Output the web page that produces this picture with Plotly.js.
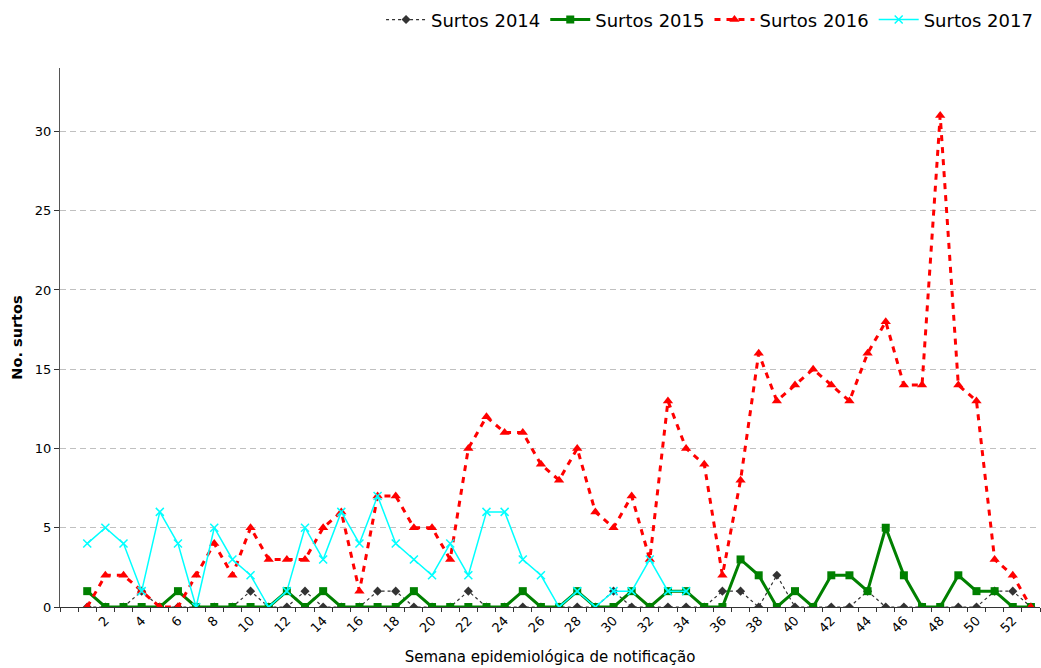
<!DOCTYPE html>
<html>
<head>
<meta charset="utf-8">
<script src="https://cdn.plot.ly/plotly-3.0.1.min.js"></script>
<style>html,body{margin:0;padding:0;background:#fff;}#chart{width:1041px;height:668px;}</style>
</head>
<body>
<div id="chart"></div>
<script>
const weeks = [];
for (let w = 1; w <= 53; w++) weeks.push(w);
const weeks2017 = weeks.slice(0, 34);

const surtos2014 = [0,0,0,1,0,0,0,0,0,1,0,0,1,0,0,0,1,1,0,0,0,1,0,0,0,0,0,0,0,1,0,0,0,0,0,1,1,0,2,0,0,0,0,1,0,0,0,0,0,0,1,1,0];
const surtos2015 = [1,0,0,0,0,1,0,0,0,0,0,1,0,1,0,0,0,0,1,0,0,0,0,0,1,0,0,1,0,0,1,0,1,1,0,0,3,2,0,1,0,2,2,1,5,2,0,0,2,1,1,0,0];
const surtos2016 = [0,2,2,1,0,0,2,4,2,5,3,3,3,5,6,1,7,7,5,5,3,10,12,11,11,9,8,10,6,5,7,3,13,10,9,2,8,16,13,14,15,14,13,16,18,14,14,31,14,13,3,2,0];
const surtos2017 = [4,5,4,1,6,4,0,5,3,2,0,1,5,3,6,4,7,4,3,2,4,2,6,6,3,2,0,1,0,1,1,3,1,1];

const tickWeeks = [];
for (let w = 2; w <= 52; w += 2) tickWeeks.push(w);
const tickLabels = tickWeeks.map(String);
const yTicks = [0,5,10,15,20,25,30];

const F = 'DejaVu Sans, Verdana, sans-serif';

const traces = [
  {x: weeks, y: surtos2014, name: 'Surtos 2014', mode: 'lines+markers',
   line: {color: '#333333', width: 1.2, dash: 'dot'},
   marker: {symbol: 'diamond', size: 7, color: '#333333'}},
  {x: weeks, y: surtos2015, name: 'Surtos 2015', mode: 'lines+markers',
   line: {color: '#008000', width: 3},
   marker: {symbol: 'square', size: 8, color: '#008000'}},
  {x: weeks, y: surtos2016, name: 'Surtos 2016', mode: 'lines+markers',
   line: {color: '#ff0000', width: 3, dash: '6px,6px'},
   marker: {symbol: 'triangle-up', size: 9, color: '#ff0000'}},
  {x: weeks2017, y: surtos2017, name: 'Surtos 2017', mode: 'lines+markers',
   line: {color: '#00ffff', width: 1.5},
   marker: {symbol: 'x-thin', size: 8, color: '#00ffff', line: {color: '#00ffff', width: 1.5}}}
];

const layout = {
  width: 1041, height: 668,
  margin: {l: 60, r: 1, t: 68, b: 61},
  paper_bgcolor: '#ffffff', plot_bgcolor: '#ffffff',
  font: {family: F, color: '#000000', size: 13},
  showlegend: true,
  legend: {orientation: 'h', x: 0.998, xanchor: 'right', yref: 'container', y: 0.998, yanchor: 'top',
           font: {family: F, size: 18, color: '#000'}, itemwidth: 40, tracegroupgap: 0},
  xaxis: {
    range: [-0.5, 53.5], tickmode: 'array', tickvals: tickWeeks, ticktext: tickLabels,
    tickangle: -45, ticks: '', showgrid: false, zeroline: false,
    showline: true, linecolor: '#333333', linewidth: 1,
    tickfont: {family: F, size: 13, color: '#000'},
    minor: {tick0: 0.5, dtick: 1, ticks: 'outside', ticklen: 4, tickcolor: '#333333', showgrid: false},
    title: {text: 'Semana epidemiológica de notificação', font: {family: F, size: 15, color: '#000'}, standoff: 16}
  },
  yaxis: {
    range: [0, 34], tickmode: 'array', tickvals: yTicks, ticktext: yTicks.map(String),
    ticks: 'outside', ticklen: 5, tickcolor: '#333333',
    showgrid: true, gridcolor: '#c0c0c0', griddash: '6px,4px', gridwidth: 1, zeroline: false,
    showline: true, linecolor: '#555555', linewidth: 1,
    tickfont: {family: F, size: 13, color: '#000'},
    title: {text: '<b>No. surtos</b>', font: {family: F, size: 14.5, color: '#000'}, standoff: 8}
  }
};

Plotly.newPlot('chart', traces, layout, {displayModeBar: false, staticPlot: true});
</script>
</body>
</html>
